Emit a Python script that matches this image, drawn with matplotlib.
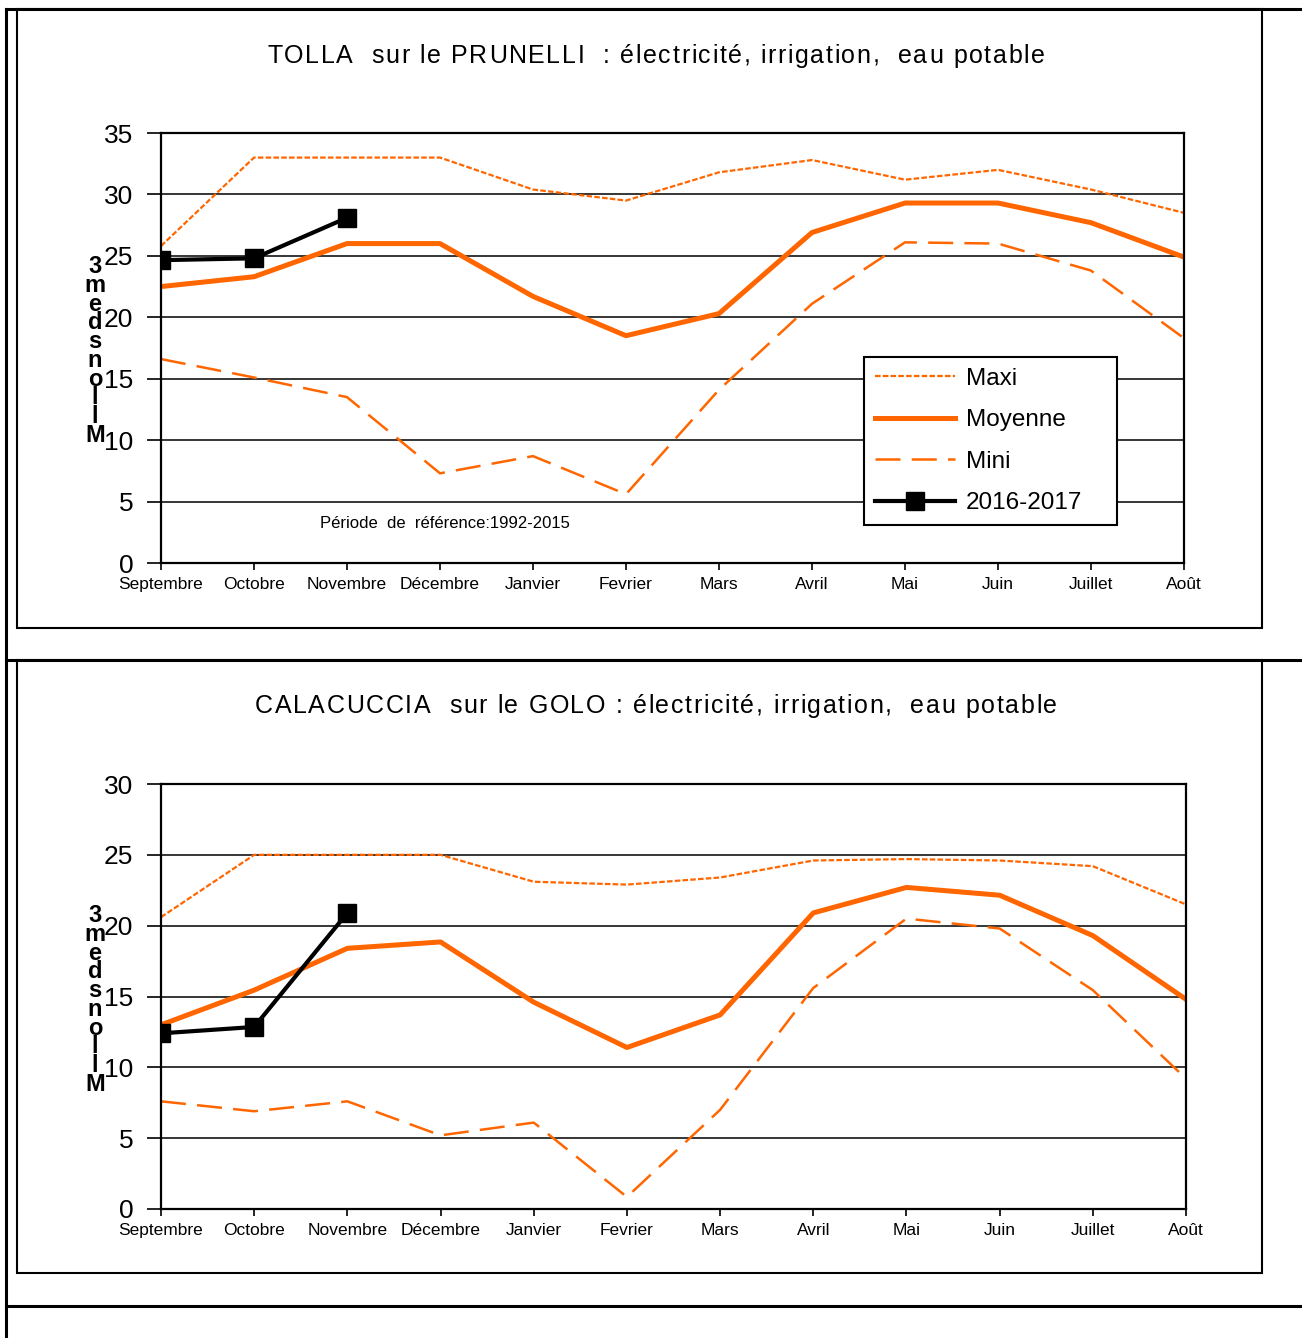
import matplotlib
matplotlib.use('Agg')
import matplotlib.pyplot as plt
from matplotlib.lines import Line2D
from matplotlib.patches import Rectangle
from matplotlib import font_manager, ft2font

plt.rcParams['font.family'] = ['Liberation Sans', 'DejaVu Sans']

mois = ['Septembre', 'Octobre', 'Novembre', 'Décembre', 'Janvier', 'Fevrier',
        'Mars', 'Avril', 'Mai', 'Juin', 'Juillet', 'Août']

# TOLLA sur le PRUNELLI
tolla_maxi = [25.8, 33.0, 33.0, 33.0, 30.4, 29.5, 31.8, 32.8, 31.2, 32.0, 30.4, 28.5]
tolla_moy = [22.5, 23.3, 26.0, 26.0, 21.7, 18.5, 20.3, 26.9, 29.3, 29.3, 27.7, 24.9]
tolla_mini = [16.6, 15.1, 13.5, 7.3, 8.7, 5.6, 14.1, 21.1, 26.1, 26.0, 23.8, 18.3]
tolla_2016 = [24.65, 24.8, 28.1]

# CALACUCCIA sur le GOLO
cala_maxi = [20.6, 25.0, 25.0, 25.0, 23.1, 22.9, 23.4, 24.6, 24.7, 24.6, 24.2, 21.5]
cala_moy = [13.0, 15.45, 18.4, 18.85, 14.6, 11.4, 13.7, 20.9, 22.7, 22.15, 19.3, 14.8]
cala_mini = [7.6, 6.9, 7.6, 5.2, 6.1, 0.85, 7.0, 15.6, 20.5, 19.8, 15.45, 9.2]
cala_2016 = [12.4, 12.85, 20.9]

ORANGE = '#FF6600'
W, H = 1302, 1338

fig = plt.figure(figsize=(W / 100, H / 100), dpi=100)

fpath = font_manager.findfont(font_manager.FontProperties(family='Liberation Sans'))


def advance(ch, size):
    f = ft2font.FT2Font(fpath)
    f.set_size(size, 100)
    return f.load_char(ord(ch)).linearHoriAdvance / 65536


def spaced_text(xc, y_base, s, size, track):
    # text with extra letter spacing, centred on xc (pixels)
    widths = [advance(c, size) for c in s]
    total = sum(widths) + track * (len(s) - 1)
    x = xc - total / 2
    for c, w in zip(s, widths):
        if c != ' ':
            fig.text(x / W, 1 - y_base / H, c, fontsize=size, ha='left', va='baseline')
        x += w + track


def px_axes(x0, y0, x1, y1):
    return fig.add_axes([x0 / W, 1 - y1 / H, (x1 - x0) / W, (y1 - y0) / H])


def fline(xs, ys, lw, color='k'):
    fig.add_artist(Line2D([x / W for x in xs], [1 - y / H for y in ys],
                          transform=fig.transFigure, color=color, lw=lw))


# page table lines
fline([6, 1302], [9, 9], 2.2)
fline([6, 6], [9, 1338], 2.2)
fline([6, 1302], [660, 660], 2.2)
fline([6, 1302], [1306, 1306], 2.2)
# chart frames
for (y0, y1) in [(9, 628), (660, 1273)]:
    fig.add_artist(Rectangle((17 / W, 1 - y1 / H), (1262 - 17) / W, (y1 - y0) / H,
                             transform=fig.transFigure, fill=False, ec='k', lw=1.5))


def draw(ax, maxi, moy, mini, cur, ymax, title, title_y, lab_mid, show_legend):
    x = list(range(len(mois)))
    l1, = ax.plot(x, maxi, color=ORANGE, lw=1.6, ls=(0, (2.5, 1)), label='Maxi')
    l2, = ax.plot(x, moy, color=ORANGE, lw=3.6, label='Moyenne')
    l3, = ax.plot(x, mini, color=ORANGE, lw=1.8, ls=(0, (10, 4.5)), label='Mini')
    l4, = ax.plot(x[:len(cur)], cur, color='k', lw=3, marker='s', ms=13.5,
                  label='2016-2017')
    ax.set_xlim(0, 11)
    ax.set_ylim(0, ymax)
    ax.set_yticks(range(0, ymax + 1, 5))
    ax.set_xticks(x)
    ax.set_xticklabels(mois, fontsize=12.5)
    ax.tick_params(axis='y', labelsize=19, length=10, width=1.2, pad=10)
    ax.tick_params(axis='x', length=5, width=1.2, pad=5)
    ax.yaxis.grid(True, color='k', lw=1.1)
    ax.set_axisbelow(True)
    for s in ax.spines.values():
        s.set_linewidth(1.6)
    spaced_text(656, title_y + 9, title, 18, 1.6)
    # stacked y label, one letter per line as in the original
    fig.text(95 / W, 1 - lab_mid / H, '\n'.join('3medsnollM'), fontsize=17,
             fontweight='bold', ha='center', va='center', multialignment='center',
             linespacing=0.76)
    if show_legend:
        leg = ax.legend(handles=[l1, l2, l3, l4], loc='lower left',
                        bbox_to_anchor=((864 - 161) / (1184 - 161),
                                        (563 - 525) / (563 - 133),
                                        (1117 - 864) / (1184 - 161),
                                        (525 - 352) / (563 - 133)),
                        mode='expand', borderaxespad=0, fontsize=17.5,
                        frameon=True, fancybox=False, edgecolor='k', framealpha=1,
                        borderpad=0.45, labelspacing=0.8, handlelength=3.3,
                        handletextpad=0.45)
        leg.get_frame().set_linewidth(1.5)


ax1 = px_axes(161, 133, 1184, 563)
draw(ax1, tolla_maxi, tolla_moy, tolla_mini, tolla_2016, 35,
     'TOLLA  sur le PRUNELLI  : électricité, irrigation,  eau potable', 54, 351, True)
fig.text(320 / W, 1 - 524 / H, 'Période  de  référence:1992-2015', fontsize=12,
         ha='left', va='center')

ax2 = px_axes(161, 784, 1186, 1209)
draw(ax2, cala_maxi, cala_moy, cala_mini, cala_2016, 30,
     'CALACUCCIA  sur le GOLO : électricité, irrigation,  eau potable', 704, 1000, False)

fig.savefig('out.png', dpi=100)
